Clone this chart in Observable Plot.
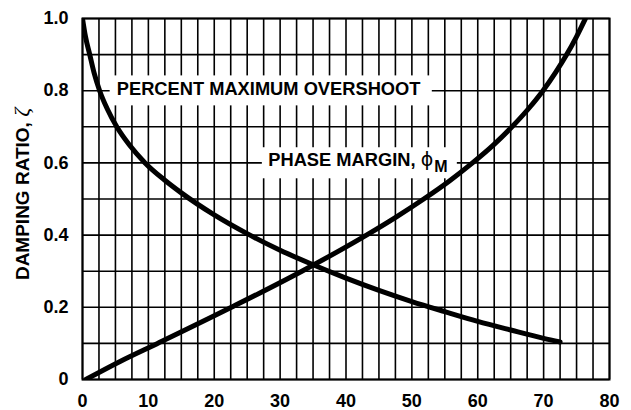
<!DOCTYPE html>
<html><head><meta charset="utf-8">
<script src="https://cdn.jsdelivr.net/npm/d3@7"></script>
<script src="https://cdn.jsdelivr.net/npm/@observablehq/plot@0.6"></script>
<style>
html,body{margin:0;padding:0;background:#fff;}
</style>
</head><body><div id="chart"></div>
<script>
// Percent maximum overshoot curve (x = %OS, y = damping ratio)
const overshootPct  = [0, 0.45, 1.1, 1.75, 2.6, 3.75, 5.2, 7.1, 9.5, 12.5, 15, 20, 25, 30, 35, 40, 45, 50, 55, 60, 65, 70, 72.5];
const overshootZeta = [1.0, 0.95, 0.9, 0.85, 0.8, 0.75, 0.7, 0.65, 0.6, 0.552, 0.517, 0.456, 0.404, 0.358, 0.318, 0.281, 0.247, 0.216, 0.188, 0.161, 0.137, 0.114, 0.104];
// Phase margin curve (x = phase margin in degrees, y = damping ratio)
const phaseMarginDeg = [0.5, 5.7, 11.4, 22.6, 33.3, 43.1, 47.6, 51.8, 55.7, 59.2, 62.4, 65.2, 67.7, 69.9, 71.8, 73.5, 75.0, 76.35];
const phaseZeta      = [0, 0.05, 0.1, 0.2, 0.3, 0.4, 0.45, 0.5, 0.55, 0.6, 0.65, 0.7, 0.75, 0.8, 0.85, 0.9, 0.95, 1.0];
// Axis ticks
const xTicks = [0, 10, 20, 30, 40, 50, 60, 70, 80];
const xTickLabels = ["0", "10", "20", "30", "40", "50", "60", "70", "80"];
const yTicks = [0, 0.2, 0.4, 0.6, 0.8, 1.0];
const yTickLabels = ["0", "0.2", "0.4", "0.6", "0.8", "1.0"];
// Curve labels (text, start x, centre y, white box extents in data units)
const labelTexts = ["PERCENT MAXIMUM OVERSHOOT", "PHASE MARGIN, ϕM"];
const labelX = [5.2, 28.2];
const labelY = [0.803, 0.607];
const boxX1 = [4.2, 27.3];
const boxX2 = [53.1, 56.9];
const boxY1 = [0.758, 0.556];
const boxY2 = [0.841, 0.642];
const yAxisTitle = "DAMPING RATIO, ζ";

const osData = overshootPct.map((x, i) => ({x, y: overshootZeta[i]}));
const pmData = phaseMarginDeg.map((x, i) => ({x, y: phaseZeta[i]}));
const labels = labelTexts.map((t, i) => ({t, x: labelX[i], y: labelY[i], x1: boxX1[i], x2: boxX2[i], y1: boxY1[i], y2: boxY2[i]}));

const chart = Plot.plot({
  width: 631,
  height: 410,
  marginLeft: 82,
  marginRight: 22,
  marginTop: 18,
  marginBottom: 31,
  style: {fontFamily: "'Liberation Sans', Arial, sans-serif", fontWeight: "bold", fontSize: "18px", background: "white"},
  x: {domain: [0, 80], label: null},
  y: {domain: [0, 1], label: null},
  marks: [
    Plot.ruleX(d3.range(0, 80.001, 2.5), {stroke: "black", strokeWidth: 1.6}),
    Plot.ruleY(d3.range(0, 1.0001, 0.1), {stroke: "black", strokeWidth: 1.6}),
    Plot.rect(labels, {x1: "x1", x2: "x2", y1: "y1", y2: "y2", fill: "white"}),
    Plot.text(labels, {x: "x", y: "y", text: "t", textAnchor: "start", fill: "black", fontSize: 18.3, fontWeight: "bold"}),
    Plot.line(osData, {x: "x", y: "y", stroke: "black", strokeWidth: 5, curve: "monotone-x", clip: "frame"}),
    Plot.line(pmData, {x: "x", y: "y", stroke: "black", strokeWidth: 5, curve: "monotone-x", clip: "frame"}),
    Plot.frame({stroke: "black", strokeWidth: 2}),
    Plot.axisX({ticks: xTicks, tickSize: 0, tickPadding: 15, tickFormat: d => xTickLabels[xTicks.indexOf(d)], label: null}),
    Plot.axisY({ticks: yTicks, tickSize: 0, tickPadding: 14, tickFormat: d => yTickLabels[yTicks.indexOf(d)], label: null}),
    Plot.text([yAxisTitle], {frameAnchor: "left", textAnchor: "middle", rotate: -90, dx: -60, dy: -5, text: d => d, fontSize: 19, fontWeight: "bold", fill: "black"})
  ]
});

// Style the Greek symbols like the reference
const NS = "http://www.w3.org/2000/svg";
chart.querySelectorAll("text").forEach(t => {
  const s = t.textContent;
  if (s === yAxisTitle) {
    t.textContent = "DAMPING RATIO, ";
    const z = document.createElementNS(NS, "tspan");
    z.textContent = "ζ";
    z.setAttribute("font-family", "'Liberation Serif', serif");
    z.setAttribute("font-style", "italic");
    z.setAttribute("font-weight", "normal");
    z.setAttribute("font-size", "22");
    t.appendChild(z);
  } else if (s === labelTexts[1]) {
    t.textContent = "PHASE MARGIN, ";
    const p = document.createElementNS(NS, "tspan");
    p.textContent = "ϕ";
    p.setAttribute("font-family", "'DejaVu Sans', sans-serif");
    p.setAttribute("font-weight", "normal");
    p.setAttribute("font-size", "19");
    t.appendChild(p);
    const m = document.createElementNS(NS, "tspan");
    m.textContent = "M";
    m.setAttribute("dy", "6");
    m.setAttribute("dx", "1");
    m.setAttribute("font-size", "16");
    t.appendChild(m);
  }
});
document.getElementById("chart").appendChild(chart);
</script>
</body></html>
